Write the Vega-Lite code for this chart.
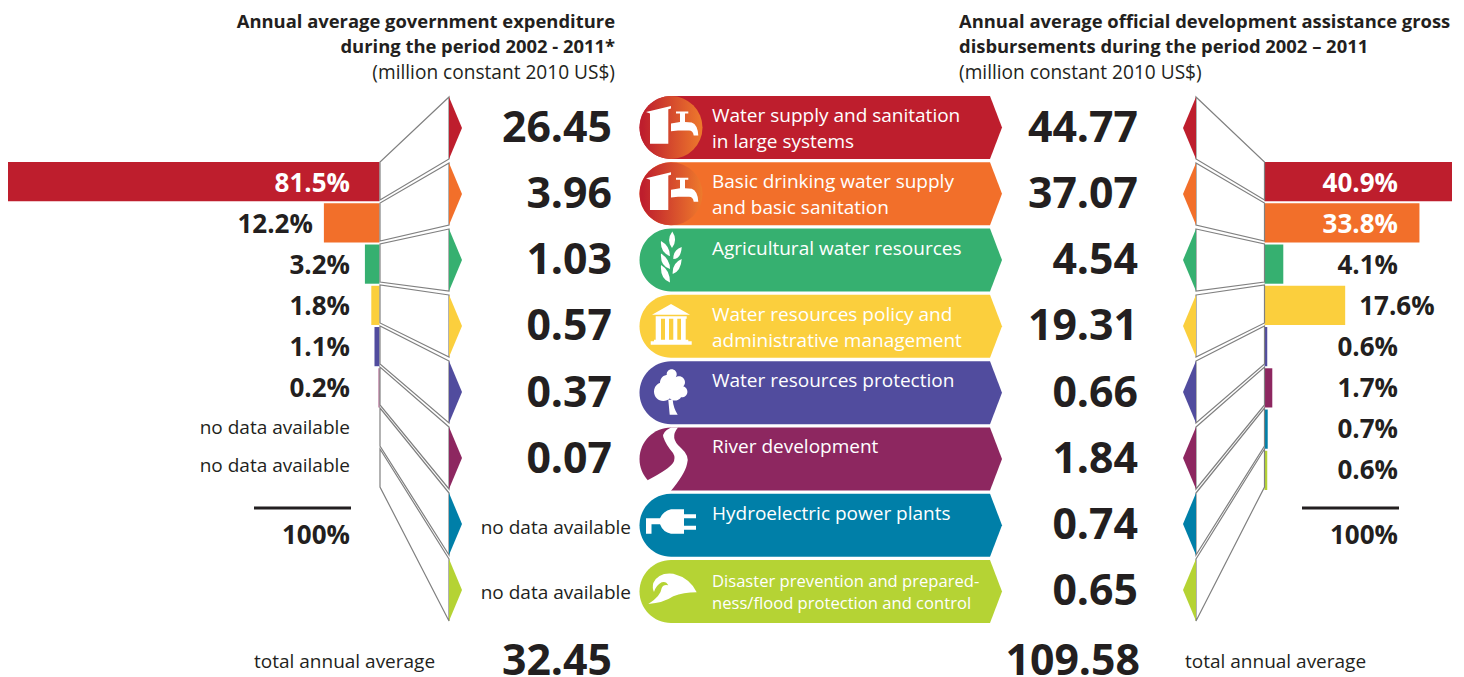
{
"$schema":"https://vega.github.io/schema/vega-lite/v6.json",
"width":1464,"height":677,"padding":0,"autosize":{"type":"none"},"background":"white",
"config":{"view":{"stroke":null},"axis":{"disable":true},"legend":{"disable":true},"text":{"font":"Open Sans","color":"#231f20"},"scale":{"pointPadding":0}},
"resolve":{"scale":{"x":"independent","y":"independent","shape":"independent"}},
"datasets":{
"rows":[
{"category":"Water supply","side":"gov","share":0.815,"amount":26.45},
{"category":"Basic supply","side":"gov","share":0.122,"amount":3.96},
{"category":"Agriculture","side":"gov","share":0.032,"amount":1.03},
{"category":"Policy","side":"gov","share":0.018,"amount":0.57},
{"category":"Protection","side":"gov","share":0.011,"amount":0.37},
{"category":"River","side":"gov","share":0.002,"amount":0.07},
{"category":"Hydropower","side":"gov","share":null,"amount":null},
{"category":"Disaster","side":"gov","share":null,"amount":null},
{"category":"Water supply","side":"oda","share":0.409,"amount":44.77},
{"category":"Basic supply","side":"oda","share":0.338,"amount":37.07},
{"category":"Agriculture","side":"oda","share":0.041,"amount":4.54},
{"category":"Policy","side":"oda","share":0.176,"amount":19.31},
{"category":"Protection","side":"oda","share":0.006,"amount":0.66},
{"category":"River","side":"oda","share":0.017,"amount":1.84},
{"category":"Hydropower","side":"oda","share":0.007,"amount":0.74},
{"category":"Disaster","side":"oda","share":0.006,"amount":0.65}],
"cats":[
{"category":"Water supply","label":"Water supply and sanitation\nin large systems"},
{"category":"Basic supply","label":"Basic drinking water supply\nand basic sanitation"},
{"category":"Agriculture","label":"Agricultural water resources"},
{"category":"Policy","label":"Water resources policy and\nadministrative management"},
{"category":"Protection","label":"Water resources protection"},
{"category":"River","label":"River development"},
{"category":"Hydropower","label":"Hydroelectric power plants"},
{"category":"Disaster","label":"Disaster prevention and prepared-\nness/flood protection and control"}],
"totals":[
{"side":"gov","total":32.45,"share":1,"caption":"total annual average"},
{"side":"oda","total":109.58,"share":1,"caption":"total annual average"}],
"heads":[
{"side":"gov","heading":"Annual average government expenditure\nduring the period 2002 - 2011*","unit":"(million constant 2010 US$)"},
{"side":"oda","heading":"Annual average official development assistance gross\ndisbursements during the period 2002 – 2011","unit":"(million constant 2010 US$)"}]
},
"layer":[
{"data":{"name":"rows"},"transform":[{"filter":"datum.side==='gov' && datum.share>0"}],
"mark":{"type":"bar"},
"encoding":{"x":{"field":"share","type":"quantitative","stack":null,"scale":{"domain":[0,0.815],"range":[379.5,8],"nice":false}},
"y":{"field":"category","type":"nominal","scale":{"type":"band","domain":["Water supply","Basic supply","Agriculture","Policy","Protection","River","Hydropower","Disaster"],"range":[162,490],"paddingInner":0.05,"paddingOuter":0}},
"color":{"field":"category","type":"nominal","scale":{"domain":["Water supply","Basic supply","Agriculture","Policy","Protection","River","Hydropower","Disaster"],"range":["#be1e2d","#f26f2a","#36b070","#fbcf3d","#514c9e","#8d2760","#007fa8","#b5d334"]}}}},
{"data":{"name":"rows"},"transform":[{"filter":"datum.side==='oda'"}],
"mark":{"type":"bar"},
"encoding":{"x":{"field":"share","type":"quantitative","stack":null,"scale":{"domain":[0,0.409],"range":[1264.5,1452],"nice":false}},
"y":{"field":"category","type":"nominal","scale":{"type":"band","domain":["Water supply","Basic supply","Agriculture","Policy","Protection","River","Hydropower","Disaster"],"range":[162,490],"paddingInner":0.05,"paddingOuter":0}},
"color":{"field":"category","type":"nominal","scale":{"domain":["Water supply","Basic supply","Agriculture","Policy","Protection","River","Hydropower","Disaster"],"range":["#be1e2d","#f26f2a","#36b070","#fbcf3d","#514c9e","#8d2760","#007fa8","#b5d334"]}}}},
{"data":{"name":"rows"},"transform":[{"filter":"datum.side==='gov'"}],
"mark":{"type":"point","filled":false,"stroke":"#808080","strokeWidth":1.2,"opacity":1,"size":4},
"encoding":{"x":{"field":"side","type":"nominal","scale":{"type":"point","domain":["gov","oda"],"range":[449,1196],"padding":0}},
"y":{"field":"category","type":"nominal","scale":{"type":"point","domain":["Water supply","Basic supply","Agriculture","Policy","Protection","River","Hydropower","Disaster"],"range":[128,590],"padding":0}},
"shape":{"field":"category","type":"nominal","scale":{"domain":["Water supply","Basic supply","Agriculture","Policy","Protection","River","Hydropower","Disaster"],"range":["M0,-31L-69,34V72L0,31Z","M0,-31L-69,9V47L0,31Z","M0,-31L-69,-16V22L0,31Z","M0,-31L-69,-41V-3L0,31Z","M0,-31L-69,-66V-28L0,31Z","M0,-31L-69,-91V-53L0,31Z","M0,-31L-69,-116V-78L0,31Z","M0,-31L-69,-141V-103L0,31Z"]}}}},
{"data":{"name":"rows"},"transform":[{"filter":"datum.side==='oda'"}],
"mark":{"type":"point","filled":false,"stroke":"#808080","strokeWidth":1.2,"opacity":1,"size":4},
"encoding":{"x":{"field":"side","type":"nominal","scale":{"type":"point","domain":["gov","oda"],"range":[449,1196],"padding":0}},
"y":{"field":"category","type":"nominal","scale":{"type":"point","domain":["Water supply","Basic supply","Agriculture","Policy","Protection","River","Hydropower","Disaster"],"range":[128,590],"padding":0}},
"shape":{"field":"category","type":"nominal","scale":{"domain":["Water supply","Basic supply","Agriculture","Policy","Protection","River","Hydropower","Disaster"],"range":["M0,-31L68.5,34V72L0,31Z","M0,-31L68.5,9V47L0,31Z","M0,-31L68.5,-16V22L0,31Z","M0,-31L68.5,-41V-3L0,31Z","M0,-31L68.5,-66V-28L0,31Z","M0,-31L68.5,-91V-53L0,31Z","M0,-31L68.5,-116V-78L0,31Z","M0,-31L68.5,-141V-103L0,31Z"]}}}},
{"data":{"name":"rows"},
"mark":{"type":"point","filled":true,"opacity":1,"size":4},
"encoding":{"x":{"field":"side","type":"nominal","scale":{"type":"point","domain":["gov","oda"],"range":[449,1196],"padding":0}},
"y":{"field":"category","type":"nominal","scale":{"type":"point","domain":["Water supply","Basic supply","Agriculture","Policy","Protection","River","Hydropower","Disaster"],"range":[128,590],"padding":0}},
"shape":{"field":"side","type":"nominal","scale":{"domain":["gov","oda"],"range":["M0,-31L13,0L0,31Z","M0,-31L-13,0L0,31Z"]}},
"color":{"field":"category","type":"nominal","scale":{"domain":["Water supply","Basic supply","Agriculture","Policy","Protection","River","Hydropower","Disaster"],"range":["#be1e2d","#f26f2a","#36b070","#fbcf3d","#514c9e","#8d2760","#007fa8","#b5d334"]}}}},
{"data":{"name":"cats"},
"mark":{"type":"point","filled":true,"opacity":1,"size":4,"shape":"M0,-31.5H319L331,0L319,31.5H0A31.5,31.5 0 0 1 0,-31.5Z"},
"encoding":{"x":{"datum":"ribbon","type":"nominal","scale":{"type":"point","domain":["ribbon"],"range":[671,671]}},
"y":{"field":"category","type":"nominal","scale":{"type":"point","domain":["Water supply","Basic supply","Agriculture","Policy","Protection","River","Hydropower","Disaster"],"range":[127.5,591.5],"padding":0}},
"color":{"field":"category","type":"nominal","scale":{"domain":["Water supply","Basic supply","Agriculture","Policy","Protection","River","Hydropower","Disaster"],"range":["#be1e2d","#f26f2a","#36b070","#fbcf3d","#514c9e","#8d2760","#007fa8","#b5d334"]}}}},
{"data":{"name":"cats"},"transform":[{"filter":"datum.category==='Water supply'||datum.category==='Basic supply'"}],
"mark":{"type":"point","filled":true,"opacity":1,"shape":"circle","size":3969,"fill":{"gradient":"linear","x1":0,"y1":0,"x2":1,"y2":0,"stops":[{"offset":0.05,"color":"#be1e2d"},{"offset":1,"color":"#ee7a2c"}]}},
"encoding":{"x":{"datum":"ribbon","type":"nominal","scale":{"type":"point","domain":["ribbon"],"range":[671,671]}},
"y":{"field":"category","type":"nominal","scale":{"type":"point","domain":["Water supply","Basic supply","Agriculture","Policy","Protection","River","Hydropower","Disaster"],"range":[127.5,591.5],"padding":0}}}},
{"data":{"name":"cats"},
"mark":{"type":"point","filled":true,"opacity":1,"size":4,"fill":"white"},
"encoding":{"x":{"datum":"ribbon","type":"nominal","scale":{"type":"point","domain":["ribbon"],"range":[671,671]}},
"y":{"field":"category","type":"nominal","scale":{"type":"point","domain":["Water supply","Basic supply","Agriculture","Policy","Protection","River","Hydropower","Disaster"],"range":[127.5,591.5],"padding":0}},
"shape":{"field":"category","type":"nominal","scale":{"domain":["Water supply","Basic supply","Agriculture","Policy","Protection","River","Hydropower","Disaster"],"range":[
"M-25,-15.5L0,-21.5V-19L-2.7,-18.2V16.2H-21V-14ZM5,-16H17.3V-14H14V-9.5H14V-5.5L20.7,-5Q26.7,-3 27.3,8H22.7Q22,3 18,3H7L0,3.8V-4L9,-5.5V-14H5Z",
"M-25,-15.5L0,-21.5V-19L-2.7,-18.2V16.2H-21V-14ZM5,-16H17.3V-14H14V-9.5H14V-5.5L20.7,-5Q26.7,-3 27.3,8H22.7Q22,3 18,3H7L0,3.8V-4L9,-5.5V-14H5Z",
"M1.3,-28.5Q7,-20 1,-12Q-5,-20 1.3,-28.5ZM-10,-19Q-1,-14 -1,-4Q-11,-7.5 -10,-19ZM-10,-6.5Q-1,-1 -1,9Q-11,6 -10,-6.5ZM-10,5Q-1,10 -1,22.5Q-11,19 -10,5ZM10.7,-13Q10,-1 2.3,-1Q2,-10 10.7,-13ZM10.7,-1Q10,11 1.7,14Q1,3 10.7,-1Z",
"M0,-22.3L19,-11.7H-19ZM-15.3,-10H15.7V-7.7H-15.3ZM-15.3,-7.7H-10V13.3H-15.3ZM-6,-7.7H-2V13.3H-6ZM2.3,-7.7H6.3V13.3H2.3ZM10,-7.7H14.7V13.3H10ZM-17,13.3H17.3V15H-17ZM-20.3,15H20.7V18.3H-20.3Z",
"M-4.3,-18.5a5,5 0 1,0 10,0a5,5 0 1,0 -10,0ZM2,-10.5a6,6 0 1,0 12,0a6,6 0 1,0 -12,0ZM5,-1a5.7,5.7 0 1,0 11.4,0a5.7,5.7 0 1,0 -11.4,0ZM-17,-1a9.3,9.3 0 1,0 18.6,0a9.3,9.3 0 1,0 -18.6,0ZM-3.3,0.5a7.3,7.3 0 1,0 14.6,0a7.3,7.3 0 1,0 -14.6,0ZM-11,-10a8,8 0 1,0 16,0a8,8 0 1,0 -16,0ZM-2.7,7L-1.3,22H6.7Q2.3,15 1.7,7Z",
"M7,-31.5L0,-31.5Q-9,-27 -7.7,-22Q-5,-14 2,-6Q5,-1 2,4Q-2,10 -23,21L-24,33L-1,33Q14,15 16,5Q19,-3 10,-11Q-2,-21 7,-31.5Z",
"M13,-16H0Q-8,-14 -11,-7H-25V8.5H-19.5V-1H-11Q-8,7 0,8.5H13V4.5H25V0.5H13V-7H25V-11H13Z",
"M-22.7,12.5Q-7.7,11.5 2.3,4.8Q12.3,0.8 25.7,0.8Q19,-13.5 2.3,-17.8Q-12.7,-19.5 -17.7,-8.5Q-19,-3.5 -17,0.5Q-15,-6.2 -9.3,-9.2Q-5,-10.8 -2.7,-6.2Q-7.7,-7.5 -9.3,-3.5Q-10.3,4.8 -22.7,12.5Z"
]}}}},
{"data":{"name":"cats"},"transform":[{"filter":"datum.category!=='Disaster'"}],
"mark":{"type":"text","align":"left","lineBreak":"\n","lineHeight":26,"fontSize":19,"fill":"white"},
"encoding":{"x":{"datum":"ribbon","type":"nominal","scale":{"type":"point","domain":["ribbon"],"range":[712,712]}},
"y":{"field":"category","type":"nominal","scale":{"type":"point","domain":["Water supply","Basic supply","Agriculture","Policy","Protection","River","Hydropower","Disaster"],"range":[116,580],"padding":0}},
"text":{"field":"label"}}},
{"data":{"name":"cats"},"transform":[{"filter":"datum.category==='Disaster'"}],
"mark":{"type":"text","align":"left","lineBreak":"\n","lineHeight":22,"fontSize":16.6,"fill":"white"},
"encoding":{"x":{"datum":"ribbon","type":"nominal","scale":{"type":"point","domain":["ribbon"],"range":[712,712]}},
"y":{"field":"category","type":"nominal","scale":{"type":"point","domain":["Water supply","Basic supply","Agriculture","Policy","Protection","River","Hydropower","Disaster"],"range":[116,582],"padding":0}},
"text":{"field":"label"}}},
{"data":{"name":"rows"},"transform":[{"filter":"datum.amount>0"}],
"mark":{"type":"text","align":"right","baseline":"middle","fontSize":42.8,"fontWeight":"bold"},
"encoding":{"x":{"field":"side","type":"nominal","scale":{"type":"point","domain":["gov","oda"],"range":[612,1138],"padding":0}},
"y":{"field":"category","type":"nominal","scale":{"type":"point","domain":["Water supply","Basic supply","Agriculture","Policy","Protection","River","Hydropower","Disaster"],"range":[129,592],"padding":0}},
"text":{"field":"amount","type":"quantitative","format":".2f"}}},
{"data":{"name":"rows"},"transform":[{"filter":"datum.side==='gov' && !(datum.amount>0)"}],
"mark":{"type":"text","align":"right","baseline":"middle","fontSize":19},
"encoding":{"x":{"field":"side","type":"nominal","scale":{"type":"point","domain":["gov","oda"],"range":[631,1138],"padding":0}},
"y":{"field":"category","type":"nominal","scale":{"type":"point","domain":["Hydropower","Disaster"],"range":[528,593],"padding":0}},
"text":{"value":"no data available"}}},
{"data":{"name":"rows"},"transform":[{"filter":"datum.side==='gov' && !(datum.amount>0)"}],
"mark":{"type":"text","align":"right","baseline":"middle","fontSize":19},
"encoding":{"x":{"field":"side","type":"nominal","scale":{"type":"point","domain":["gov","oda"],"range":[350,1398],"padding":0}},
"y":{"field":"category","type":"nominal","scale":{"type":"point","domain":["Hydropower","Disaster"],"range":[428,466],"padding":0}},
"text":{"value":"no data available"}}},
{"data":{"name":"rows"},"transform":[{"filter":"datum.share>0 && (datum.share<0.07 || datum.share>0.3)"}],
"mark":{"type":"text","align":"right","baseline":"middle","fontSize":26,"fontWeight":"bold"},
"encoding":{"x":{"field":"side","type":"nominal","scale":{"type":"point","domain":["gov","oda"],"range":[350,1398],"padding":0}},
"y":{"field":"category","type":"nominal","scale":{"type":"point","domain":["Water supply","Basic supply","Agriculture","Policy","Protection","River","Hydropower","Disaster"],"range":[184,471],"padding":0}},
"text":{"field":"share","type":"quantitative","format":".1%"},
"color":{"condition":{"test":"datum.share>0.3","value":"white"},"value":"#231f20"}}},
{"data":{"name":"rows"},"transform":[{"filter":"datum.side==='gov' && datum.share>=0.07 && datum.share<=0.3"}],
"mark":{"type":"text","align":"right","baseline":"middle","fontSize":26,"fontWeight":"bold","dx":-11},
"encoding":{"x":{"field":"share","type":"quantitative","scale":{"domain":[0,0.815],"range":[379.5,8],"nice":false}},
"y":{"field":"category","type":"nominal","scale":{"type":"point","domain":["Water supply","Basic supply","Agriculture","Policy","Protection","River","Hydropower","Disaster"],"range":[184,471],"padding":0}},
"text":{"field":"share","type":"quantitative","format":".1%"}}},
{"data":{"name":"rows"},"transform":[{"filter":"datum.side==='oda' && datum.share>=0.07 && datum.share<=0.3"}],
"mark":{"type":"text","align":"left","baseline":"middle","fontSize":26,"fontWeight":"bold","dx":14},
"encoding":{"x":{"field":"share","type":"quantitative","scale":{"domain":[0,0.409],"range":[1264.5,1452],"nice":false}},
"y":{"field":"category","type":"nominal","scale":{"type":"point","domain":["Water supply","Basic supply","Agriculture","Policy","Protection","River","Hydropower","Disaster"],"range":[184,471],"padding":0}},
"text":{"field":"share","type":"quantitative","format":".1%"}}},
{"data":{"name":"totals"},
"mark":{"type":"point","filled":false,"stroke":"#231f20","strokeWidth":3,"opacity":1,"size":4,"shape":"M-97,0H0"},
"encoding":{"x":{"field":"side","type":"nominal","scale":{"type":"point","domain":["gov","oda"],"range":[351,1399],"padding":0}},
"y":{"datum":"rule","type":"nominal","scale":{"type":"point","domain":["rule"],"range":[508,508]}}}},
{"data":{"name":"totals"},
"mark":{"type":"text","align":"right","baseline":"middle","fontSize":26,"fontWeight":"bold"},
"encoding":{"x":{"field":"side","type":"nominal","scale":{"type":"point","domain":["gov","oda"],"range":[350,1398],"padding":0}},
"y":{"datum":"sum","type":"nominal","scale":{"type":"point","domain":["sum"],"range":[536,536]}},
"text":{"field":"share","type":"quantitative","format":".0%"}}},
{"data":{"name":"totals"},
"mark":{"type":"text","align":"right","baseline":"middle","fontSize":42.8,"fontWeight":"bold"},
"encoding":{"x":{"field":"side","type":"nominal","scale":{"type":"point","domain":["gov","oda"],"range":[612,1140],"padding":0}},
"y":{"datum":"sum","type":"nominal","scale":{"type":"point","domain":["sum"],"range":[662,662]}},
"text":{"field":"total","type":"quantitative","format":".2f"}}},
{"data":{"name":"totals"},
"mark":{"type":"text","align":"left","baseline":"middle","fontSize":19},
"encoding":{"x":{"field":"side","type":"nominal","scale":{"type":"point","domain":["gov","oda"],"range":[254,1185],"padding":0}},
"y":{"datum":"sum","type":"nominal","scale":{"type":"point","domain":["sum"],"range":[662,662]}},
"text":{"field":"caption"}}},
{"data":{"name":"heads"},"transform":[{"filter":"datum.side==='gov'"}],
"mark":{"type":"text","align":"right","lineBreak":"\n","lineHeight":25,"fontSize":18.4,"fontWeight":"bold"},
"encoding":{"x":{"field":"side","type":"nominal","scale":{"type":"point","domain":["gov","oda"],"range":[615,959],"padding":0}},
"y":{"datum":"heading","type":"nominal","scale":{"type":"point","domain":["heading"],"range":[22,22]}},
"text":{"field":"heading"}}},
{"data":{"name":"heads"},"transform":[{"filter":"datum.side==='oda'"}],
"mark":{"type":"text","align":"left","lineBreak":"\n","lineHeight":25,"fontSize":18.4,"fontWeight":"bold"},
"encoding":{"x":{"field":"side","type":"nominal","scale":{"type":"point","domain":["gov","oda"],"range":[615,959],"padding":0}},
"y":{"datum":"heading","type":"nominal","scale":{"type":"point","domain":["heading"],"range":[22,22]}},
"text":{"field":"heading"}}},
{"data":{"name":"heads"},"transform":[{"filter":"datum.side==='gov'"}],
"mark":{"type":"text","align":"right","fontSize":19.1},
"encoding":{"x":{"field":"side","type":"nominal","scale":{"type":"point","domain":["gov","oda"],"range":[615,959],"padding":0}},
"y":{"datum":"unit","type":"nominal","scale":{"type":"point","domain":["unit"],"range":[73,73]}},
"text":{"field":"unit"}}},
{"data":{"name":"heads"},"transform":[{"filter":"datum.side==='oda'"}],
"mark":{"type":"text","align":"left","fontSize":19.1},
"encoding":{"x":{"field":"side","type":"nominal","scale":{"type":"point","domain":["gov","oda"],"range":[615,959],"padding":0}},
"y":{"datum":"unit","type":"nominal","scale":{"type":"point","domain":["unit"],"range":[73,73]}},
"text":{"field":"unit"}}}
]
}
